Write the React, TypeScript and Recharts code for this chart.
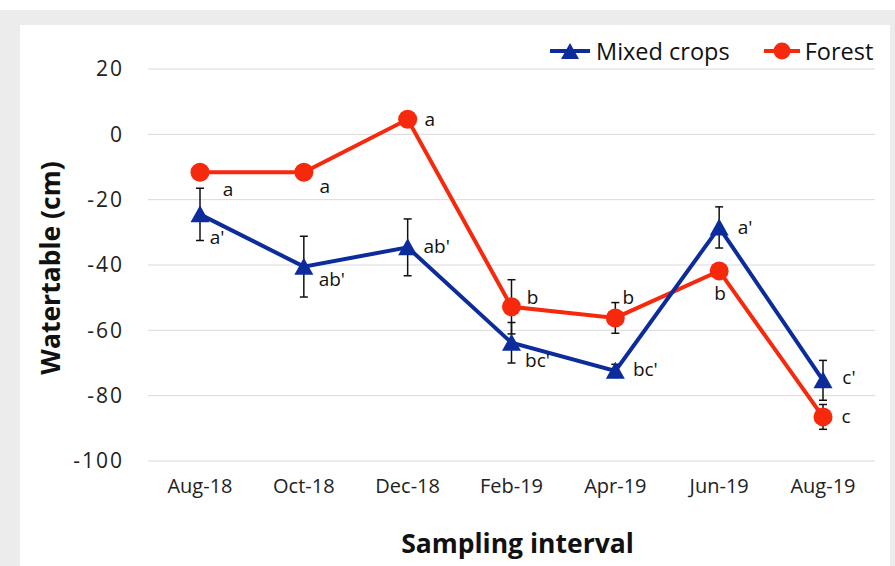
import React from "react";
import {
  CartesianGrid,
  ErrorBar,
  LabelList,
  Legend,
  Line,
  LineChart,
  XAxis,
  YAxis,
} from "recharts";

const categories = ["Aug-18", "Oct-18", "Dec-18", "Feb-19", "Apr-19", "Jun-19", "Aug-19"];

const mixedCrops = [-24.5, -40.5, -34.6, -63.8, -72.4, -28.5, -75.3];
const mixedErr = [8.0, 9.3, 8.7, 6.2, 2.0, 6.3, 6.1];
const mixedLetters = ["a'", "ab'", "ab'", "bc'", "bc'", "a'", "c'"];

const forest = [-11.6, -11.6, 4.6, -52.8, -56.2, -41.8, -86.5];
const forestErr = [1.5, 1.5, 1.5, 8.3, 4.7, 1.5, 3.8];
const forestLetters = ["a", "a", "a", "b", "b", "b", "c"];

const yTicks = [-100, -80, -60, -40, -20, 0, 20];

const data = categories.map((month, i) => ({
  month,
  mixed: mixedCrops[i],
  mixedErr: mixedErr[i],
  mixedSig: mixedLetters[i],
  forest: forest[i],
  forestErr: forestErr[i],
  forestSig: forestLetters[i],
}));

const BLUE = "#0d2c9c";
const RED = "#f7290c";
const FONT = "'Open Sans', sans-serif";

// letter placement next to each marker (dx, dy in px)
const mixedLabelOffsets = [[17, 23], [28, 12], [29, -1], [26, 17], [30, -2], [26, 0], [26, -3]];
const forestLabelOffsets = [[28, 17], [21, 14], [22, 0], [21, -10], [13, -21], [1, 22], [23, -1]];

function TriangleDot(props: any) {
  const { cx, cy } = props;
  if (cx == null || cy == null) return null;
  return <path d={`M${cx},${cy - 9} L${cx + 9.5},${cy + 8} L${cx - 9.5},${cy + 8} Z`} fill={BLUE} />;
}

function CircleDot(props: any) {
  const { cx, cy } = props;
  if (cx == null || cy == null) return null;
  return <circle cx={cx} cy={cy} r={9.5} fill={RED} />;
}

const makeLabel = (offsets: number[][]) => (props: any) => {
  const { x, y, value, index } = props;
  const [dx, dy] = offsets[index] ?? [20, 0];
  return (
    <text
      x={x + dx}
      y={y + dy}
      textAnchor="middle"
      dominantBaseline="central"
      fontSize={19}
      fontFamily={FONT}
      fill="#111"
    >
      {value}
    </text>
  );
};

function renderLegend() {
  return (
    <div style={{ display: "flex", alignItems: "center", fontFamily: FONT, fontSize: 23.5, color: "#111" }}>
      <svg width={40} height={22}>
        <line x1={0} y1={11} x2={40} y2={11} stroke={BLUE} strokeWidth={4} />
        <path d="M20,3 L29,19 L11,19 Z" fill={BLUE} />
      </svg>
      <span style={{ marginLeft: 6 }}>Mixed crops</span>
      <svg width={36} height={22} style={{ marginLeft: 34 }}>
        <line x1={0} y1={11} x2={36} y2={11} stroke={RED} strokeWidth={4} />
        <circle cx={18} cy={11} r={8.5} fill={RED} />
      </svg>
      <span style={{ marginLeft: 5 }}>Forest</span>
    </div>
  );
}

export default function App() {
  return (
    <div style={{ position: "absolute", left: 0, top: 0, width: 895, height: 566, background: "#fff" }}>
      <div style={{ position: "absolute", left: 0, top: 10, width: 895, height: 556, background: "#ececec" }} />
      <div style={{ position: "absolute", left: 20, top: 25, width: 870, height: 541, background: "#fff" }} />
      <div style={{ position: "absolute", left: 0, top: 0 }}>
        <LineChart width={895} height={566} data={data} margin={{ top: 69, right: 20, bottom: 75, left: 0 }}>
          <CartesianGrid vertical={false} stroke="#d9d9d9" strokeWidth={1} />
          <XAxis
            dataKey="month"
            axisLine={false}
            tickLine={false}
            tickSize={0}
            tickMargin={18}
            height={30}
            interval={0}
            padding={{ left: 52, right: 52 }}
            tick={{ fontSize: 20, fill: "#222", fontFamily: FONT }}
            label={{
              content: (p: any) => {
                const vb = p.viewBox || { x: 148, width: 727, y: 461 };
                return (
                  <text
                    x={vb.x + vb.width / 2 + 6}
                    y={543}
                    textAnchor="middle"
                    dominantBaseline="central"
                    fontSize={26.5}
                    fontWeight={700}
                    fontFamily={FONT}
                    fill="#111"
                  >
                    Sampling interval
                  </text>
                );
              },
            }}
          />
          <YAxis
            width={148}
            domain={[-100, 20]}
            ticks={yTicks}
            axisLine={false}
            tickLine={false}
            tickSize={0}
            tickMargin={24}
            tick={{ fontSize: 21, fill: "#222", fontFamily: FONT, letterSpacing: 2 }}
            label={{
              content: (p: any) => {
                const vb = p.viewBox || { x: 0, y: 69, height: 392 };
                const cx = vb.x + 50;
                const cy = vb.y + vb.height / 2 + 3;
                return (
                  <text
                    x={cx}
                    y={cy}
                    transform={`rotate(-90 ${cx} ${cy})`}
                    textAnchor="middle"
                    dominantBaseline="central"
                    fontSize={26.5}
                    fontWeight={700}
                    fontFamily={FONT}
                    fill="#111"
                  >
                    Watertable (cm)
                  </text>
                );
              },
            }}
          />
          <Legend
            layout="horizontal"
            verticalAlign="middle"
            align="center"
            wrapperStyle={{ top: 35, left: 550, width: 345, height: 32 }}
            content={renderLegend}
          />
          <Line
            type="linear"
            dataKey="forest"
            name="Forest"
            stroke={RED}
            strokeWidth={4}
            dot={<CircleDot />}
            activeDot={false}
            isAnimationActive={false}
          >
            <ErrorBar dataKey="forestErr" direction="y" width={4} stroke="#111" strokeWidth={1.5} />
            <LabelList dataKey="forestSig" content={makeLabel(forestLabelOffsets)} />
          </Line>
          <Line
            type="linear"
            dataKey="mixed"
            name="Mixed crops"
            stroke={BLUE}
            strokeWidth={4}
            dot={<TriangleDot />}
            activeDot={false}
            isAnimationActive={false}
          >
            <ErrorBar dataKey="mixedErr" direction="y" width={4} stroke="#111" strokeWidth={1.5} />
            <LabelList dataKey="mixedSig" content={makeLabel(mixedLabelOffsets)} />
          </Line>
        </LineChart>
      </div>
    </div>
  );
}
